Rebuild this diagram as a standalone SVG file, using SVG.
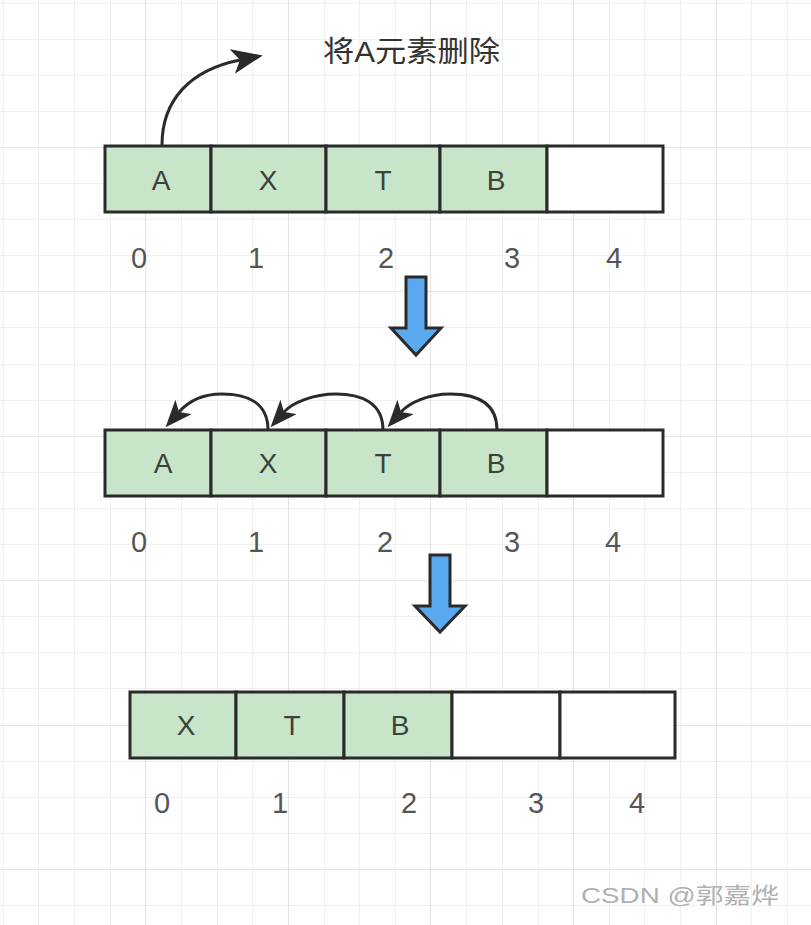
<svg xmlns="http://www.w3.org/2000/svg" width="811" height="925" viewBox="0 0 811 925">
<style>
  .minor { stroke: #f0f0f0; stroke-width: 1; fill: none; }
  .major { stroke: #e4e4e4; stroke-width: 1.2; fill: none; }
  .cell { stroke: #2a2a2a; stroke-width: 3; }
  .g { fill: #c9e5c9; }
  .w { fill: #ffffff; }
  .lt { font-family: "Liberation Sans", "Noto Sans CJK SC", sans-serif; font-size: 28px; fill: #3a423a; text-anchor: middle; }
  .idx { font-family: "Liberation Sans", "Noto Sans CJK SC", sans-serif; font-size: 29px; fill: #555555; text-anchor: middle; }
  .conn { fill: none; stroke: #2a2a2a; stroke-width: 3; }
  .blue { fill: #5aa9ee; stroke: #2a2a2a; stroke-width: 3; stroke-linejoin: miter; }
  .title { font-family: "Liberation Sans", "Noto Sans CJK SC", sans-serif; font-size: 29px; fill: #333333; }
  .wm { font-family: "Liberation Sans", "Noto Sans CJK SC", sans-serif; font-size: 22px; fill: #b0b0b0; }
</style>
<defs>
  <marker id="ah" viewBox="0 0 10 8" refX="2.5" refY="4" markerUnits="userSpaceOnUse" markerWidth="31" markerHeight="24.8" orient="auto">
    <path d="M0,0 L10,4 L0,8 L2.5,4 Z" fill="#2a2a2a"/>
  </marker>
  <marker id="ah2" viewBox="0 0 10 8" refX="2.5" refY="4" markerUnits="userSpaceOnUse" markerWidth="27" markerHeight="21.6" orient="auto">
    <path d="M0,0 L10,4 L0,8 L2.5,4 Z" fill="#2a2a2a"/>
  </marker>
</defs>
<rect width="811" height="925" fill="#ffffff"/>
<g id="grid">
  <path class="minor" d="M3.5,0V925M38.5,0V925M74.5,0V925M110.5,0V925M181.5,0V925M217.5,0V925M252.5,0V925M324.5,0V925M359.5,0V925M395.5,0V925M466.5,0V925M502.5,0V925M538.5,0V925M609.5,0V925M644.5,0V925M680.5,0V925M751.5,0V925M787.5,0V925
  M0,3.5H811M0,39.5H811M0,75.5H811M0,111.5H811M0,183.5H811M0,219.5H811M0,255.5H811M0,327.5H811M0,364.5H811M0,400.5H811M0,472.5H811M0,508.5H811M0,544.5H811M0,616.5H811M0,652.5H811M0,688.5H811M0,761.5H811M0,797.5H811M0,833.5H811M0,905.5H811"/>
  <path class="major" d="M145.5,0V925M288.5,0V925M430.5,0V925M573.5,0V925M716.5,0V925M0,147.5H811M0,291.5H811M0,436.5H811M0,580.5H811M0,725.5H811M0,869.5H811"/>
</g>

<g id="title">
  <text class="title" x="323" y="62" textLength="177" lengthAdjust="spacingAndGlyphs">将A元素删除</text>
</g>

<g id="array1">
  <rect class="cell g" x="105" y="146" width="106" height="66"/>
  <rect class="cell g" x="211" y="146" width="115" height="66"/>
  <rect class="cell g" x="326" y="146" width="114" height="66"/>
  <rect class="cell g" x="440" y="146" width="107" height="66"/>
  <rect class="cell w" x="547" y="146" width="116" height="66"/>
  <text class="lt" x="161" y="190">A</text>
  <text class="lt" x="268" y="190">X</text>
  <text class="lt" x="383" y="190">T</text>
  <text class="lt" x="496" y="190">B</text>
</g>
<g id="index1">
  <text class="idx" x="139" y="268">0</text>
  <text class="idx" x="256" y="268">1</text>
  <text class="idx" x="386" y="268">2</text>
  <text class="idx" x="512" y="268">3</text>
  <text class="idx" x="614" y="268">4</text>
</g>

<g id="array2">
  <rect class="cell g" x="105" y="430" width="106" height="66"/>
  <rect class="cell g" x="211" y="430" width="115" height="66"/>
  <rect class="cell g" x="326" y="430" width="114" height="66"/>
  <rect class="cell g" x="440" y="430" width="107" height="66"/>
  <rect class="cell w" x="547" y="430" width="116" height="66"/>
  <text class="lt" x="163" y="473">A</text>
  <text class="lt" x="268" y="473">X</text>
  <text class="lt" x="383" y="473">T</text>
  <text class="lt" x="496" y="473">B</text>
</g>
<g id="index2">
  <text class="idx" x="139" y="552">0</text>
  <text class="idx" x="256" y="552">1</text>
  <text class="idx" x="385" y="552">2</text>
  <text class="idx" x="512" y="552">3</text>
  <text class="idx" x="613" y="552">4</text>
</g>

<g id="array3">
  <rect class="cell g" x="130" y="692" width="106" height="66"/>
  <rect class="cell g" x="236" y="692" width="108" height="66"/>
  <rect class="cell g" x="344" y="692" width="108" height="66"/>
  <rect class="cell w" x="452" y="692" width="108" height="66"/>
  <rect class="cell w" x="560" y="692" width="115" height="66"/>
  <text class="lt" x="186" y="735">X</text>
  <text class="lt" x="292" y="735">T</text>
  <text class="lt" x="400" y="735">B</text>
</g>
<g id="index3">
  <text class="idx" x="162" y="813">0</text>
  <text class="idx" x="280" y="813">1</text>
  <text class="idx" x="409" y="813">2</text>
  <text class="idx" x="536" y="813">3</text>
  <text class="idx" x="637" y="813">4</text>
</g>

<g id="step-arrows">
  <path class="blue" d="M406,277 H426 V328 H441 L416,355 L391,328 H406 Z"/>
  <path class="blue" d="M430,555 H450 V606 H465 L440,632 L415,606 H430 Z"/>
</g>

<g id="connectors">
  <path class="conn" d="M162,145 C162,100 190,70 240,60" marker-end="url(#ah)"/>
  <path class="conn" d="M497,430 C497,402 475,394 450,394 C428,394 409,403 401,412" marker-end="url(#ah2)"/>
  <path class="conn" d="M383,430 C383,402 360,394 336,394 C313,394 292,403 284,412" marker-end="url(#ah2)"/>
  <path class="conn" d="M268,430 C268,402 246,394 222,394 C200,394 187,403 179,412" marker-end="url(#ah2)"/>
</g>

<g id="watermark">
  <text class="wm" x="581" y="903" textLength="198" lengthAdjust="spacingAndGlyphs">CSDN @郭嘉烨</text>
</g>
</svg>
